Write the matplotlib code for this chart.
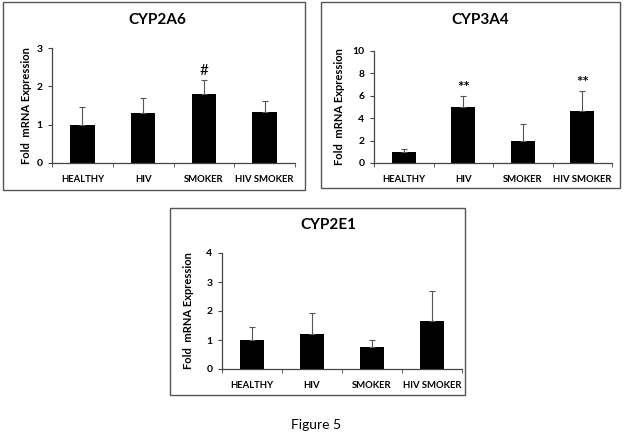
import matplotlib
matplotlib.use("Agg")
import matplotlib.pyplot as plt
from matplotlib.patches import Rectangle
import numpy as np

plt.rcParams['font.family'] = ['Lato', 'DejaVu Sans']

categories = ["HEALTHY", "HIV", "SMOKER", "HIV SMOKER"]

cyp2a6_vals = [1.0, 1.30, 1.80, 1.32]
cyp2a6_err = [0.45, 0.39, 0.36, 0.31]
cyp2a6_marks = ["", "", "#", ""]

cyp3a4_vals = [1.0, 5.0, 2.0, 4.6]
cyp3a4_err = [0.22, 1.0, 1.47, 1.87]
cyp3a4_marks = ["", "**", "", "**"]

cyp2e1_vals = [1.0, 1.19, 0.75, 1.65]
cyp2e1_err = [0.46, 0.74, 0.26, 1.05]
cyp2e1_marks = ["", "", "", ""]

W, H = 625, 441
fig = plt.figure(figsize=(W / 100, H / 100), dpi=100)


def px_rect(x0, y0, x1, y1):
    return [x0 / W, 1 - y1 / H, (x1 - x0) / W, (y1 - y0) / H]


def panel(axrect, boxrect, title, title_xy, vals, errs, marks, ymax, ystep, mark_gap, ylab_x):
    bx = px_rect(*boxrect)
    fig.add_artist(Rectangle((bx[0], bx[1]), bx[2], bx[3], transform=fig.transFigure,
                             fill=False, edgecolor="#555555", linewidth=1.0))
    ax = fig.add_axes(px_rect(*axrect))
    x = np.arange(len(categories))
    ax.bar(x, vals, width=0.4, color="black", zorder=2)
    ax.errorbar(x, vals, yerr=[np.zeros(len(vals)), errs], fmt="none",
                ecolor="#555555", elinewidth=0.8, capsize=2.5, capthick=0.8, zorder=3)
    for xi, v, e, m in zip(x, vals, errs, marks):
        if m:
            ax.text(xi, v + e + mark_gap * ymax, m, ha="center", va="center",
                    fontsize=11, fontweight="bold" if m == "**" else "normal")
    ax.set_xlim(-0.5, 3.5)
    ax.set_ylim(0, ymax)
    ticks = np.arange(0, ymax + 0.001, ystep)
    ax.set_yticks(ticks)
    ax.set_yticklabels([f"{int(t)}" for t in ticks], fontsize=7.5, fontweight="bold")
    ax.set_xticks(x)
    ax.set_xticklabels(categories, fontsize=6.8, fontweight="bold")
    ax.set_xticks(np.arange(-0.5, 3.6, 1), minor=True)
    ax.tick_params(axis="x", which="major", length=0, pad=9)
    ax.tick_params(axis="x", which="minor", length=3, direction="out", color="#444444")
    ax.tick_params(axis="y", length=3, direction="out", color="#444444", pad=4)
    for s in ["top", "right"]:
        ax.spines[s].set_visible(False)
    for s in ["left", "bottom"]:
        ax.spines[s].set_color("#444444")
        ax.spines[s].set_linewidth(0.9)
    ax.set_ylabel("Fold  mRNA Expression", fontsize=8, fontweight="bold")
    yc = 1 - (axrect[1] + axrect[3]) / 2 / H
    ax.yaxis.set_label_coords(ylab_x / W, yc, transform=fig.transFigure)
    fig.text(title_xy[0] / W, 1 - title_xy[1] / H, title, ha="center", va="center",
             fontsize=11, fontweight="bold")
    return ax


panel((52, 48, 295, 163), (3, 2, 305, 190), "CYP2A6", (157, 20),
      cyp2a6_vals, cyp2a6_err, cyp2a6_marks, 3, 1, 0.08, 32)
panel((374, 51, 612, 163), (321, 2, 620, 188), "CYP3A4", (480, 20),
      cyp3a4_vals, cyp3a4_err, cyp3a4_marks, 10, 2, 0.07, 345)
panel((222, 253, 462, 369), (170, 208, 465, 395), "CYP2E1", (328, 225),
      cyp2e1_vals, cyp2e1_err, cyp2e1_marks, 4, 1, 0.08, 194)

fig.text(316 / W, 1 - 425 / H, "Figure 5", ha="center", va="center", fontsize=10)

fig.savefig("out.png", dpi=100)
